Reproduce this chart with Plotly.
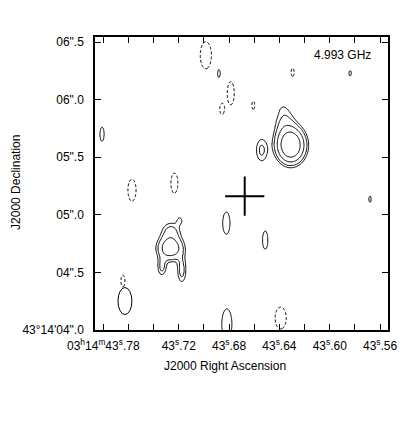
import numpy as np
import plotly.graph_objects as go

# Map frame (RA seconds of 03h14m, Dec arcsec of +43d14')
ra_range = [43.7866, 43.5537]
dec_range = [4.0, 6.544]
mas_per_s = 10930.0  # 1 s of RA at this declination, in mas

# Model components: RA (s), Dec ("), peak (map units), sigma_x (mas), sigma_y (mas)
comp_ra = [43.6310, 43.6358, 43.6374, 43.6541,
           43.7267, 43.7263, 43.7191, 43.7334, 43.7176,
           43.7810, 43.6882, 43.5838, 43.5680, 43.6822, 43.6513, 43.6818,
           43.6985, 43.6787, 43.6858, 43.6608, 43.6295, 43.7572, 43.7235, 43.7644, 43.6390]
comp_dec = [5.6045, 5.804, 5.9254, 5.561,
            4.711, 4.8586, 4.954, 4.5464, 4.5204,
            5.700, 6.229, 6.229, 5.136, 4.928, 4.7806, 4.052,
            6.385, 6.0555, 5.9167, 5.9514, 6.2377, 5.2142, 5.275, 4.425, 4.104]
comp_peak = [24.5, 3.2, 0.6, 3.4,
             10.0, 3.5, 2.0, 3.5, 3.8,
             2.8, 2.8, 2.8, 2.8, 2.8, 2.8, 2.8,
             -2.8, -2.8, -2.8, -2.8, -2.8, -2.8, -2.8, -2.8, -2.8]
comp_sx = [69, 65, 35, 43,
           69, 61, 26, 30, 30,
           21, 16, 11, 11, 37, 27, 52,
           59, 37, 21, 16, 16, 43, 37, 21, 59]
comp_sy = [87, 104, 35, 87,
           65, 61, 35, 61, 87,
           74, 52, 27, 32, 116, 95, 159,
           143, 122, 52, 43, 43, 116, 106, 63, 116]

# Contour levels (map units)
pos_levels = [2, 3, 6, 12, 24]
neg_levels = [-2]

# Restoring beam (FWHM, mas) and its plotted position
beam_ra, beam_dec = 43.7628, 4.2515
beam_major_mas, beam_minor_mas = 234, 121

# Target position (cross)
target_ra, target_dec = 43.6676, 5.1622

# Axis ticks
x_tickvals = [43.78, 43.72, 43.68, 43.64, 43.60, 43.56]
x_ticktext = ["03<sup>h</sup>14<sup>m</sup>43<sup>s</sup>.78", "43<sup>s</sup>.72",
              "43<sup>s</sup>.68", "43<sup>s</sup>.64", "43<sup>s</sup>.60", "43<sup>s</sup>.56"]
x_minor_tickvals = [43.76, 43.74, 43.70, 43.66, 43.62, 43.58]
y_tickvals = [4.0, 4.5, 5.0, 5.5, 6.0, 6.5]
y_ticktext = ["43\u00b014'04\".0", "04\".5", "05\".0", "05\".5", "06\".0", "06\".5"]

freq_label = "4.993 GHz"

# ---- Model image on a grid ----
xs = np.linspace(min(ra_range), max(ra_range), 330)
ys = np.linspace(dec_range[0], dec_range[1], 330)
X, Y = np.meshgrid(xs, ys)
Z = np.zeros_like(X)
for ra, de, p, sx, sy in zip(comp_ra, comp_dec, comp_peak, comp_sx, comp_sy):
    sxs = sx / mas_per_s
    sya = sy / 1000.0
    Z += p * np.exp(-0.5 * ((X - ra) / sxs) ** 2 - 0.5 * ((Y - de) / sya) ** 2)

# map the (non-uniform) positive levels onto 0,1,2,... so one contour trace draws them all
lev_ext = [-1e6, 0.0] + pos_levels + [1e6]
idx_ext = [-2.0, -1.0] + list(range(len(pos_levels))) + [len(pos_levels)]
Zpos = np.round(np.interp(Z, lev_ext, idx_ext), 3)
Zneg = np.round(-Z, 3)

fig = go.Figure()
fig.add_trace(go.Contour(
    x=xs, y=ys, z=Zpos, showscale=False, hoverinfo="skip",
    contours=dict(coloring="none", start=0, end=len(pos_levels) - 1, size=1.0),
    line=dict(color="black", width=1), autocontour=False))
fig.add_trace(go.Contour(
    x=xs, y=ys, z=Zneg, showscale=False, hoverinfo="skip",
    contours=dict(coloring="none", start=-neg_levels[0], end=-neg_levels[0], size=1.0),
    line=dict(color="black", width=1, dash="3px,2px"), autocontour=False))

fig.add_trace(go.Scatter(
    x=[target_ra], y=[target_dec], mode="markers", hoverinfo="skip",
    marker=dict(symbol="cross-thin", size=28, line=dict(width=2, color="black"))))

# Beam ellipse
bx = beam_minor_mas / 2 / mas_per_s
by = beam_major_mas / 2 / 1000.0
fig.add_shape(type="circle", xref="x", yref="y",
              x0=beam_ra - bx, x1=beam_ra + bx, y0=beam_dec - by, y1=beam_dec + by,
              line=dict(color="black", width=1))

font = dict(family="Liberation Sans, Arial, sans-serif", size=12, color="black")
# the page body adds 8 px of margin, so the figure is 8 px smaller than the window
fig.update_layout(
    width=407, height=420,
    margin=dict(l=87, r=27, t=29, b=98),
    plot_bgcolor="white", paper_bgcolor="white",
    showlegend=False, font=font,
    xaxis=dict(range=ra_range, tickvals=x_tickvals, ticktext=x_ticktext,
               ticks="inside", ticklen=6, tickwidth=1, tickcolor="black",
               minor=dict(tickvals=x_minor_tickvals, ticks="inside", ticklen=6,
                          tickwidth=1, tickcolor="black", showgrid=False),
               showline=True, linecolor="black", linewidth=1.5, mirror="ticks",
               showgrid=False, zeroline=False, tickangle=0, ticklabelstandoff=4,
               automargin=False),
    yaxis=dict(range=dec_range, tickvals=y_tickvals, ticktext=y_ticktext,
               ticks="inside", ticklen=6, tickwidth=1, tickcolor="black",
               showline=True, linecolor="black", linewidth=1.5, mirror="ticks",
               showgrid=False, zeroline=False, ticklabelstandoff=7,
               automargin=False),
    annotations=[
        dict(text=freq_label, xref="paper", yref="paper", x=0.846, y=0.9376,
             showarrow=False, xanchor="center", yanchor="middle", font=font),
        dict(text="J2000 Right Ascension", xref="paper", yref="paper", x=0.444, y=-0.1227,
             showarrow=False, xanchor="center", yanchor="middle", font=font),
        dict(text="J2000 Declination", xref="paper", yref="paper", x=-0.270, y=0.505,
             showarrow=False, xanchor="center", yanchor="middle", textangle=-90, font=font),
    ],
)

fig.write_html("out.html")
